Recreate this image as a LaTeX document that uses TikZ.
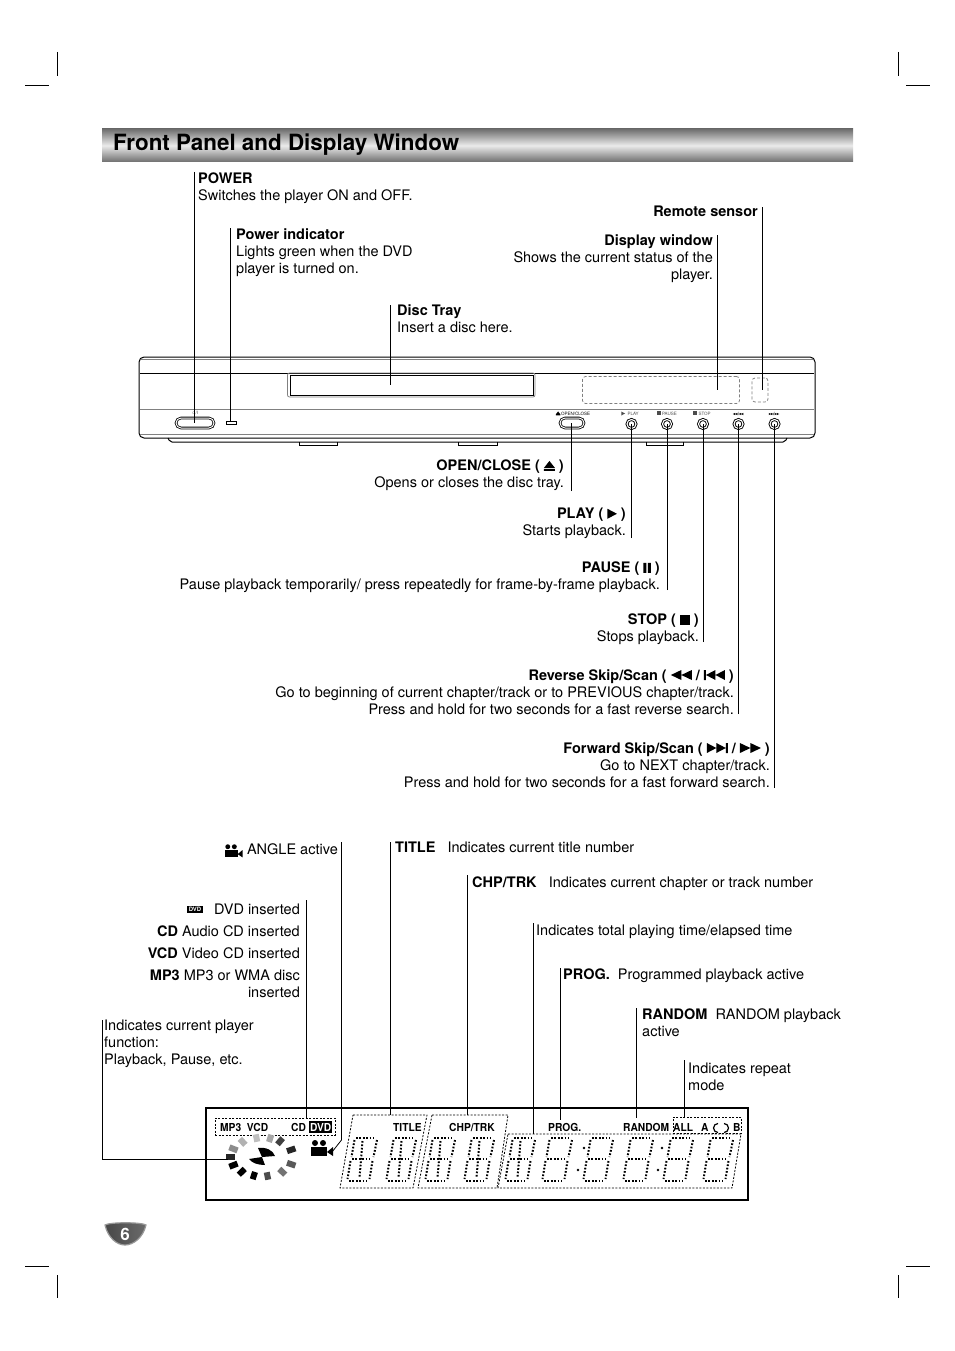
\documentclass[tikz,border=0pt]{standalone}
\usepackage{fontspec}
\setmainfont{TeX Gyre Heros}
\setsansfont{TeX Gyre Heros}
\usetikzlibrary{arrows.meta, positioning, calc, shapes.misc}
\definecolor{cbar}{HTML}{6E6E6E}
\definecolor{cpanel}{HTML}{808080}
\definecolor{cbadge}{HTML}{4A4A4A}
\newcommand{\iceject}{\tikz[x=1pt,y=1pt,baseline=0pt]{\fill (0,3)--(5.5,10)--(11,3)--cycle (0,0) rectangle (11,2);}}
\newcommand{\icplay}{\tikz[x=1pt,y=1pt,baseline=0pt]{\fill (0,0)--(9.5,5)--(0,10)--cycle;}}
\newcommand{\icpause}{\tikz[x=1pt,y=1pt,baseline=0pt]{\fill (0,0) rectangle (3,10) (4.5,0) rectangle (7.5,10);}}
\newcommand{\icstop}{\tikz[x=1pt,y=1pt,baseline=0pt]{\fill (0,0) rectangle (10,10);}}
\newcommand{\icrew}{\tikz[x=1pt,y=1pt,baseline=0pt]{\fill (10.5,0)--(0,5)--(10.5,10)--cycle (21,0)--(10.5,5)--(21,10)--cycle;}}
\newcommand{\icprev}{\tikz[x=1pt,y=1pt,baseline=0pt]{\fill (0,0) rectangle (2,10) (11.5,0)--(2,5)--(11.5,10)--cycle (21,0)--(11.5,5)--(21,10)--cycle;}}
\newcommand{\icnext}{\tikz[x=1pt,y=1pt,baseline=0pt]{\fill (19,0) rectangle (21,10) (0,0)--(9.5,5)--(0,10)--cycle (9.5,0)--(19,5)--(9.5,10)--cycle;}}
\newcommand{\icfwd}{\tikz[x=1pt,y=1pt,baseline=0pt]{\fill (0,0)--(10.5,5)--(0,10)--cycle (10.5,0)--(21,5)--(10.5,10)--cycle;}}
\tikzset{
  every picture/.style={font=\fontsize{14.5}{17}\selectfont},
  leader/.style={draw=black, line width=0.8pt},
  crop/.style={draw=black, line width=0.7pt},
  txtl/.style={anchor=north west, align=left, inner sep=0pt, yshift=-2pt},
  txtr/.style={anchor=north east, align=right, inner sep=0pt, yshift=-2pt},
  panel/.style={draw=cpanel, line width=0.8pt},
  dashbox/.style={draw=black, line width=0.8pt, dash pattern=on 2pt off 1.5pt},
  paneldash/.style={draw=cpanel, line width=0.8pt, dash pattern=on 3pt off 2pt, rounded corners=3pt},
  lcd/.style={font=\fontsize{11}{11}\selectfont\bfseries, inner sep=0pt, anchor=base west, transform shape, xscale=.93},
  tiny/.style={font=\fontsize{4.5}{5}\selectfont, text=black!70, inner sep=0pt},
  round btn/.style={circle, draw=black, line width=0.9pt, double=white, double distance=1.1pt, minimum size=9pt, inner sep=0pt},
  pill btn/.style={rounded rectangle, draw=black, line width=0.8pt, double=white, double distance=1pt, inner sep=0pt},
  segdots/.style={draw=black, line width=2pt, dash pattern=on 1.7pt off 1.7pt},
  digit/.pic={
    \draw[segdots] (9,-43)--(27,-43);
    \draw[segdots] (7.5,-41)--(4.5,-24);
    \draw[segdots] (30,-41)--(26.5,-24);
    \draw[segdots] (5,-22)--(23,-22);
    \draw[segdots] (3.5,-20)--(0.5,-2);
    \draw[segdots] (25.5,-20)--(22.5,-2);
    \draw[segdots] (2,0)--(20,0);
  },
  digitx/.pic={
    \pic {digit};
    \draw[segdots] (15.5,-40)--(12.5,-3);
  },
  camera/.pic={
    \fill (0,0) rectangle (16,9);
    \fill (4,-4) circle (3);
    \fill (12,-4) circle (3);
    \fill (16,5)--(22,0)--(22,9)--cycle;
  },
}
\begin{document}
\begin{tikzpicture}[x=1pt, y=-1pt]
  \useasboundingbox (0,0) rectangle (954,1351);
  % crop marks
  \draw[crop] (25,85) -- (49,85) (57,52) -- (57,76);
  \draw[crop] (906,85) -- (930,85) (898,52) -- (898,76);
  \draw[crop] (25,1266) -- (49,1266) (57,1275) -- (57,1298);
  \draw[crop] (906,1266) -- (930,1266) (898,1275) -- (898,1298);
  % heading
  \shade[top color=cbar, bottom color=cbar, middle color=white!92!black] (102,129) rectangle (853,162);
  \node[anchor=west, inner sep=0pt, font=\fontsize{22.4}{23}\selectfont\bfseries] (heading) at (113,145) {Front Panel and Display Window};
  % front panel
  \draw[line width=1pt, rounded corners=5pt] (139,357) rectangle (815,438);
  \draw[panel] (141,359.5) -- (813,359.5);
  \draw[line width=0.7pt] (140,373) -- (814,373);
  \draw[panel] (140,409) -- (814,409);
  \draw[panel] (140,434) -- (814,434);
  \draw[line width=1pt, rounded corners=2pt] (168,438) -- (170,442) -- (785,442) -- (787,438);
  \draw[line width=0.8pt] (299,442) -- (299,445) -- (337,445) -- (337,442);
  \draw[line width=0.8pt] (458,442) -- (458,445) -- (497,445) -- (497,442);
  \draw[line width=0.8pt] (646,442) -- (646,445) -- (683,445) -- (683,442);
  \draw[panel, rounded corners=2pt] (287.5,373) rectangle (535,397);
  \node[draw=black, line width=0.9pt, minimum width=243pt, minimum height=20pt, inner sep=0pt] (tray) at (411.5,385) {};
  \node[paneldash, minimum width=157pt, minimum height=27pt, inner sep=0pt] (window) at (661,390) {};
  \node[paneldash, minimum width=16pt, minimum height=24pt, inner sep=0pt] (sensor) at (760,390) {};
  \node[pill btn, minimum width=38pt, minimum height=10pt] (powerbtn) at (195,423) {};
  \node[draw=black, line width=0.7pt, minimum width=10pt, minimum height=3pt, inner sep=0pt] (powerled) at (231,422.5) {};
  \node[pill btn, minimum width=24pt, minimum height=10pt] (openbtn) at (572,423) {};
  \node[round btn] (playbtn) at (631.5,424) {};
  \node[round btn] (pausebtn) at (667,424) {};
  \node[round btn] (stopbtn) at (703,424) {};
  \node[round btn] (revbtn) at (738.5,424) {};
  \node[round btn] (fwdbtn) at (774.5,424) {};
  \node[tiny] (powerlbl) at (195,412.5) {$\circ$/I};
  \node[tiny, text=black] (openlbl) at (573,413.5) {\scalebox{.4}{\iceject}\,OPEN/CLOSE};
  \node[tiny] (playlbl) at (630,413.5) {\scalebox{.4}{\icplay}\ \ PLAY};
  \node[tiny] (pauselbl) at (667,413.5) {\scalebox{.4}{\icstop}\,PAUSE};
  \node[tiny] (stoplbl) at (702,413.5) {\scalebox{.4}{\icstop}\ STOP};
  \node[tiny, text=black] (revlbl) at (738,413.5) {\scalebox{.22}{\icrew}/\scalebox{.22}{\icprev}};
  \node[tiny, text=black] (fwdlbl) at (774,413.5) {\scalebox{.22}{\icnext}/\scalebox{.22}{\icfwd}};
  % callouts above the panel
  \node[txtl] (power) at (198,171) {\textbf{POWER}\\Switches the player ON and OFF.};
  \node[txtl] (indicator) at (236,226) {\textbf{Power indicator}\\Lights green when the DVD\\player is turned on.};
  \node[txtl] (disctray) at (397,302) {\textbf{Disc Tray}\\Insert a disc here.};
  \node[txtr] (remote) at (758,204) {\textbf{Remote sensor}};
  \node[txtr] (display) at (713,232) {\textbf{Display window}\\Shows the current status of the\\player.};
  \coordinate (powertop) at (194.5,172);
  \coordinate (indtop) at (230.5,228);
  \coordinate (traytop) at (390,305);
  \coordinate (remotetop) at (762.5,207);
  \coordinate (displaytop) at (717.5,235);
  \draw[leader] (powertop) -- (powertop |- powerbtn.center);
  \draw[leader] (indtop) -- (indtop |- powerled.north);
  \draw[leader] (traytop) -- (traytop |- tray.center);
  \draw[leader] (remotetop) -- (remotetop |- sensor.center);
  \draw[leader] (displaytop) -- (displaytop |- window.center);
  % callouts below the panel
  \node[txtr] (openclose) at (564,458) {\textbf{OPEN/CLOSE ( \iceject\ )}\\Opens or closes the disc tray.};
  \node[txtr] (play) at (626,506) {\textbf{PLAY ( \icplay\ )}\\Starts playback.};
  \node[txtr] (pause) at (660,560) {\textbf{PAUSE ( \icpause\ )}\\Pause playback temporarily/ press repeatedly for frame-by-frame playback.};
  \node[txtr] (stop) at (699,612) {\textbf{STOP ( \icstop\ )}\\Stops playback.};
  \node[txtr] (reverse) at (734,667) {\textbf{Reverse Skip/Scan ( \icrew\ / \icprev\ )}\\Go to beginning of current chapter/track or to PREVIOUS chapter/track.\\Press and hold for two seconds for a fast reverse search.};
  \node[txtr] (forward) at (770,740) {\textbf{Forward Skip/Scan ( \icnext\ / \icfwd\ )}\\Go to NEXT chapter/track.\\Press and hold for two seconds for a fast forward search.};
  \coordinate (openend) at (571.5,491);
  \coordinate (playend) at (631.5,538);
  \coordinate (pauseend) at (667,590);
  \coordinate (stopend) at (703,642);
  \coordinate (revend) at (738.5,714);
  \coordinate (fwdend) at (774.5,788);
  \draw[leader] (openend) -- (openend |- openbtn.center);
  \draw[leader] (playend) -- (playbtn.center);
  \draw[leader] (pauseend) -- (pausebtn.center);
  \draw[leader] (stopend) -- (stopbtn.center);
  \draw[leader] (revend) -- (revbtn.center);
  \draw[leader] (fwdend) -- (fwdbtn.center);
  % display window
  \node[draw=black, line width=2pt, minimum width=542pt, minimum height=92pt, inner sep=0pt] (lcdbox) at (477,1154) {};
  \node[dashbox, minimum width=120pt, minimum height=17pt, inner sep=0pt] (discbox) at (275,1126.5) {};
  \draw[dashbox] (353,1115) -- (427,1115) -- (413,1188) -- (340,1188) -- cycle;
  \draw[dashbox] (432,1115) -- (508,1115) -- (497,1188) -- (418,1188) -- cycle;
  \draw[dashbox] (508,1134) -- (741,1134) -- (732,1188) -- (498,1188) -- cycle;
  \node[dashbox, minimum width=68pt, minimum height=16pt, inner sep=0pt] (repeatbox) at (707,1125) {};
  \node[lcd] (lmp3) at (220,1131) {MP3\ \ VCD};
  \node[lcd] (lcd) at (291,1131) {CD};
  \node[lcd, fill=black, text=white, inner xsep=1pt, inner ysep=1.5pt] (ldvd) at (309,1131) {DVD};
  \node[lcd] (ltitle) at (393,1131) {TITLE};
  \node[lcd] (lchp) at (449,1131) {CHP/TRK};
  \node[lcd] (lprog) at (548,1131) {PROG.};
  \node[lcd] (lrandom) at (623,1131) {RANDOM};
  \node[lcd] (lall) at (673,1131) {ALL};
  \node[lcd] (lab) at (701,1131) {A};
  \node[lcd] (lb) at (733,1131) {B};
  \draw[line width=1.2pt] (718,1132.5) arc (90:270:4.5);
  \draw[line width=1.2pt] (724,1132.5) arc (90:-90:4.5);
  \foreach \x in {347,386,425,464,505}
    \pic at (\x,1181) {digitx};
  \foreach \x in {542,583,623,663,703}
    \pic at (\x,1181) {digit};
  \foreach \x/\y in {584/1148,578/1170,662/1148,658/1170}
    \fill (\x,\y) circle (1.4);
  % disc
  \foreach \a/\g in {180/85,155/45,128/30,100/25,75/35,55/75,22/85,-22/65,-50/55,-80/70,-105/100,-130/100,-155/100}
    \draw[line width=6pt, draw=black!\g] ($(262,1157)+({27*cos(\a)},{-15.5*sin(\a)})$) -- ($(262,1157)+({36*cos(\a)},{-23*sin(\a)})$);
  \fill (262,1157) -- (258,1148) .. controls (266,1147) and (273,1150) .. (275,1156) -- cycle;
  \fill (262,1157) -- (249,1159) .. controls (252,1163) and (258,1165) .. (265,1165) -- cycle;
  \pic at (311,1147) {camera};
  % callouts above the display window
  \pic[scale=.82] at (224.5,850) {camera};
  \node[txtr] (angle) at (338,841) {ANGLE active};
  \node[fill=black, text=white, inner xsep=1.5pt, inner ysep=1pt, font=\fontsize{6}{6}\selectfont\bfseries] (dvdlogo) at (195,909.5) {DVD};
  \node[txtr] (dvd) at (300,902) {DVD inserted};
  \node[txtr] (cd) at (300,923) {\textbf{CD} Audio CD inserted};
  \node[txtr] (vcd) at (300,945) {\textbf{VCD} Video CD inserted};
  \node[txtr] (mp3) at (300,968) {\textbf{MP3} MP3 or WMA disc\\inserted};
  \node[txtl] (func) at (104,1018) {Indicates current player\\function:\\Playback, Pause, etc.};
  \node[txtl] (title) at (395,840) {\textbf{TITLE}\ \ \ Indicates current title number};
  \node[txtl] (chptrk) at (472,875) {\textbf{CHP/TRK}\ \ \ Indicates current chapter or track number};
  \node[txtl] (elapsed) at (536,923) {Indicates total playing time/elapsed time};
  \node[txtl] (prog) at (563,967) {\textbf{PROG.}\ \ Programmed playback active};
  \node[txtl] (random) at (642,1006) {\textbf{RANDOM}\ \ RANDOM playback\\active};
  \node[txtl] (rep) at (688,1061) {Indicates repeat\\mode};
  \coordinate (angletop) at (341.5,842);
  \coordinate (anglemid) at (341.5,1140);
  \coordinate (angleend) at (332,1152);
  \coordinate (dvdtop) at (306.5,900);
  \coordinate (functop) at (102.5,1020);
  \coordinate (funcmid) at (102.5,1159);
  \coordinate (funcend) at (228,1159);
  \coordinate (titletop) at (390.5,842);
  \coordinate (chptop) at (467.5,875);
  \coordinate (timetop) at (533.5,923);
  \coordinate (progtop) at (560.5,968);
  \coordinate (randomtop) at (636.5,1008);
  \coordinate (reptop) at (684.5,1060);
  \draw[leader] (angletop) -- (anglemid) -- (angleend);
  \draw[leader] (dvdtop) -- (dvdtop |- discbox.north);
  \draw[leader] (functop) -- (funcmid) -- (funcend);
  \draw[leader] (titletop) -- (390.5,1115);
  \draw[leader] (chptop) -- (467.5,1115);
  \draw[leader] (timetop) -- (533.5,1134);
  \draw[leader] (progtop) -- (560.5,1120);
  \draw[leader] (randomtop) -- (636.5,1118);
  \draw[leader] (reptop) -- (reptop |- repeatbox.north);
  % page number
  \shade[left color=black!72, right color=black!58, draw=black!40, line width=1.2pt] (105,1225) .. controls (110,1222) and (141,1222) .. (146,1225) .. controls (143,1238) and (133,1245) .. (125,1245) .. controls (117,1245) and (108,1238) .. (105,1225) -- cycle;
  \node[text=white, inner sep=0pt, font=\fontsize{17}{17}\selectfont\bfseries] (pagenum) at (125,1234) {6};
\end{tikzpicture}
\end{document}
